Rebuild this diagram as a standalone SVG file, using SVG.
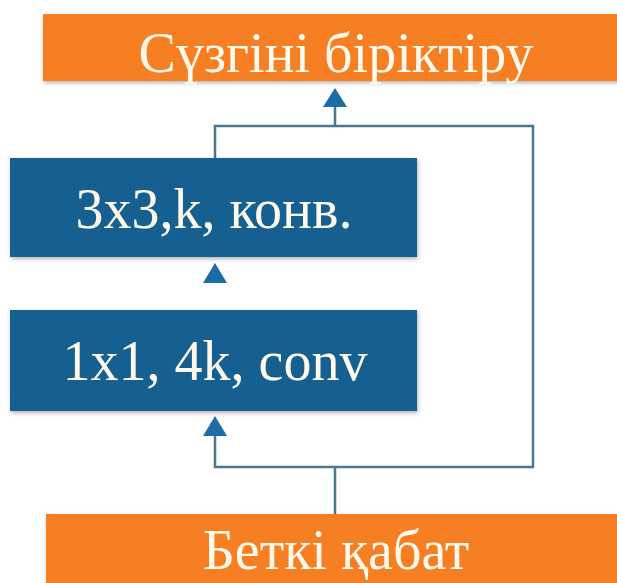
<svg xmlns="http://www.w3.org/2000/svg" width="617" height="583" viewBox="0 0 617 583">
  <style>
    .orange { fill: #F57F22; }
    .blue { fill: #176191; }
    .label { font-family: "Liberation Serif", "Times New Roman", serif; font-size: 56px; fill: #FFF9EC; text-anchor: middle; }
    .conn { fill: none; stroke: #4A7891; stroke-width: 2.5; }
    .head { fill: #1C6DA6; }
  </style>
  <defs>
    <filter id="sh" x="-5%" y="-10%" width="110%" height="130%">
      <feDropShadow dx="1" dy="2" stdDeviation="2" flood-color="#000" flood-opacity="0.3"/>
    </filter>
  </defs>
  <rect width="617" height="583" fill="#FFFFFF"/>
  <g id="connectors">
    <polyline class="conn" points="215,158 215,126 533,126 533,467 215,467 215,430"/>
    <line class="conn" x1="335" y1="126" x2="335" y2="100"/>
    <line class="conn" x1="335" y1="467" x2="335" y2="514"/>
    <polygon class="head" points="335,88 347,107 323,107"/>
    <polygon class="head" points="215,263 227,283 203,283"/>
    <polygon class="head" points="215,416 227,436 203,436"/>
  </g>
  <g id="node-top">
    <rect class="orange" x="43" y="14" width="590" height="67" filter="url(#sh)"/>
    <text class="label" x="336" y="72">Сүзгіні біріктіру</text>
  </g>
  <g id="node-conv3">
    <rect class="blue" x="10" y="158" width="407" height="99" filter="url(#sh)"/>
    <text class="label" x="214" y="228">3x3,k, конв.</text>
  </g>
  <g id="node-conv1">
    <rect class="blue" x="10" y="310" width="407" height="101" filter="url(#sh)"/>
    <text class="label" x="215" y="380">1x1, 4k, conv</text>
  </g>
  <g id="node-bottom">
    <rect class="orange" x="46" y="514" width="590" height="80" filter="url(#sh)"/>
    <text class="label" x="336" y="569">Беткі қабат</text>
  </g>
</svg>
